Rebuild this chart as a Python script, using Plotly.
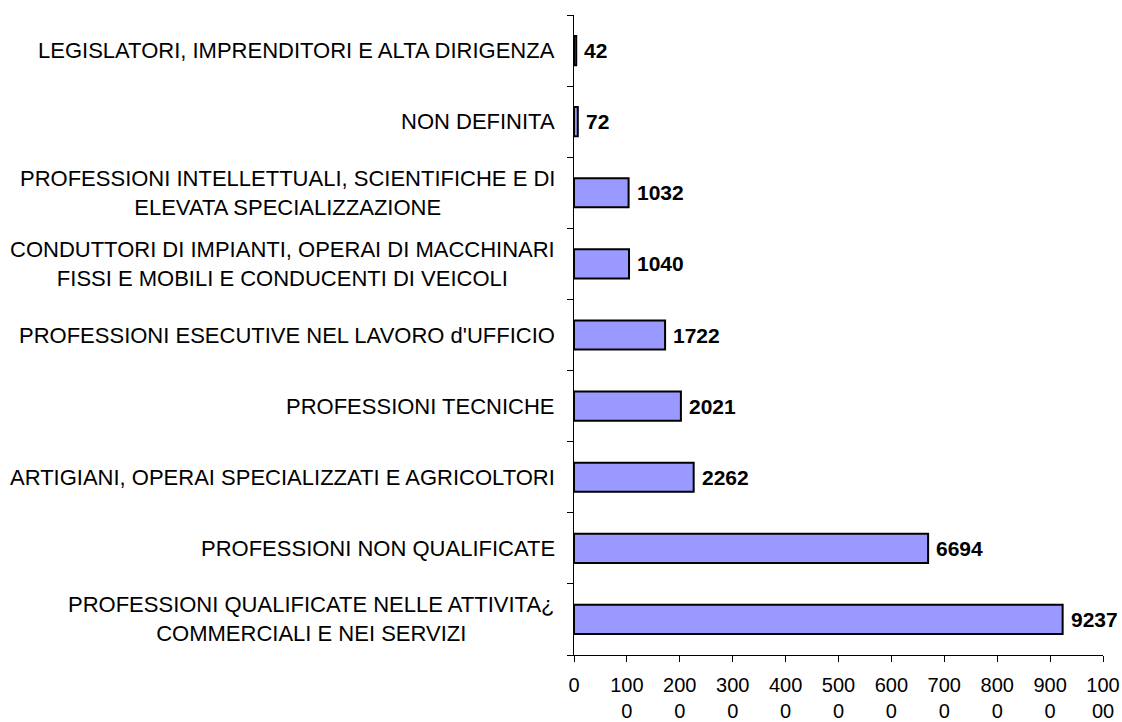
import plotly.graph_objects as go

# categories listed bottom to top, as plotly draws them
categories = [
    "PROFESSIONI QUALIFICATE NELLE ATTIVITA¿\nCOMMERCIALI E NEI SERVIZI",
    "PROFESSIONI NON QUALIFICATE",
    "ARTIGIANI, OPERAI SPECIALIZZATI E AGRICOLTORI",
    "PROFESSIONI TECNICHE",
    "PROFESSIONI ESECUTIVE NEL LAVORO d'UFFICIO",
    "CONDUTTORI DI IMPIANTI, OPERAI DI MACCHINARI\nFISSI E MOBILI E CONDUCENTI DI VEICOLI",
    "PROFESSIONI INTELLETTUALI, SCIENTIFICHE E DI\nELEVATA SPECIALIZZAZIONE",
    "NON DEFINITA",
    "LEGISLATORI, IMPRENDITORI E ALTA DIRIGENZA",
]
values = [9237, 6694, 2262, 2021, 1722, 1040, 1032, 72, 42]

# x tick labels wrap the way the original did
tick_vals = list(range(0, 10001, 1000))
tick_text = ["0", "100<br>0", "200<br>0", "300<br>0", "400<br>0", "500<br>0",
             "600<br>0", "700<br>0", "800<br>0", "900<br>0", "100<br>00"]

FONT = "Liberation Sans, Arial, sans-serif"

fig = go.Figure()
fig.add_trace(go.Bar(
    y=list(range(len(categories))),
    x=values,
    orientation="h",
    marker=dict(color="#9999FF", line=dict(color="black", width=2)),
    hoverinfo="x",
))

# category labels: centred lines, block right-aligned against the axis
for i, lab in enumerate(categories):
    fig.add_annotation(
        x=0, xref="paper", y=i, yref="y",
        text=lab.replace("\n", "<br>"),
        showarrow=False, xanchor="right", align="center",
        xshift=-17,
        font=dict(family=FONT, size=22, color="black"),
    )

# value labels to the right of each bar
for i, v in enumerate(values):
    fig.add_annotation(
        x=v, y=i, text="<b>%d</b>" % v,
        showarrow=False, xanchor="left", xshift=6,
        font=dict(family=FONT, size=21, color="black"),
    )

fig.update_layout(
    width=1122, height=722,
    margin=dict(l=574, r=19, t=15, b=67),
    plot_bgcolor="white", paper_bgcolor="white",
    showlegend=False,
    bargap=0.59,
    font=dict(family=FONT, size=20, color="black"),
    xaxis=dict(
        range=[0, 10000], tickvals=tick_vals, ticktext=tick_text,
        showgrid=False, zeroline=False, automargin=False,
        showline=True, linecolor="black", linewidth=1,
        ticks="outside", ticklen=6, tickcolor="black",
        ticklabelstandoff=6, ticklabeloverflow="allow",
    ),
    yaxis=dict(
        range=[-0.5, len(categories) - 0.5],
        tickvals=[i - 0.5 for i in range(len(categories) + 1)],
        showticklabels=False, automargin=False,
        showgrid=False, zeroline=False,
        showline=True, linecolor="black", linewidth=1,
        ticks="outside", ticklen=6, tickcolor="black",
    ),
)

# drop the default body margin so the 1122x722 figure fills the window
fig.write_html("out.html", config={"displayModeBar": False},
               post_script="document.body.style.margin='0';")
